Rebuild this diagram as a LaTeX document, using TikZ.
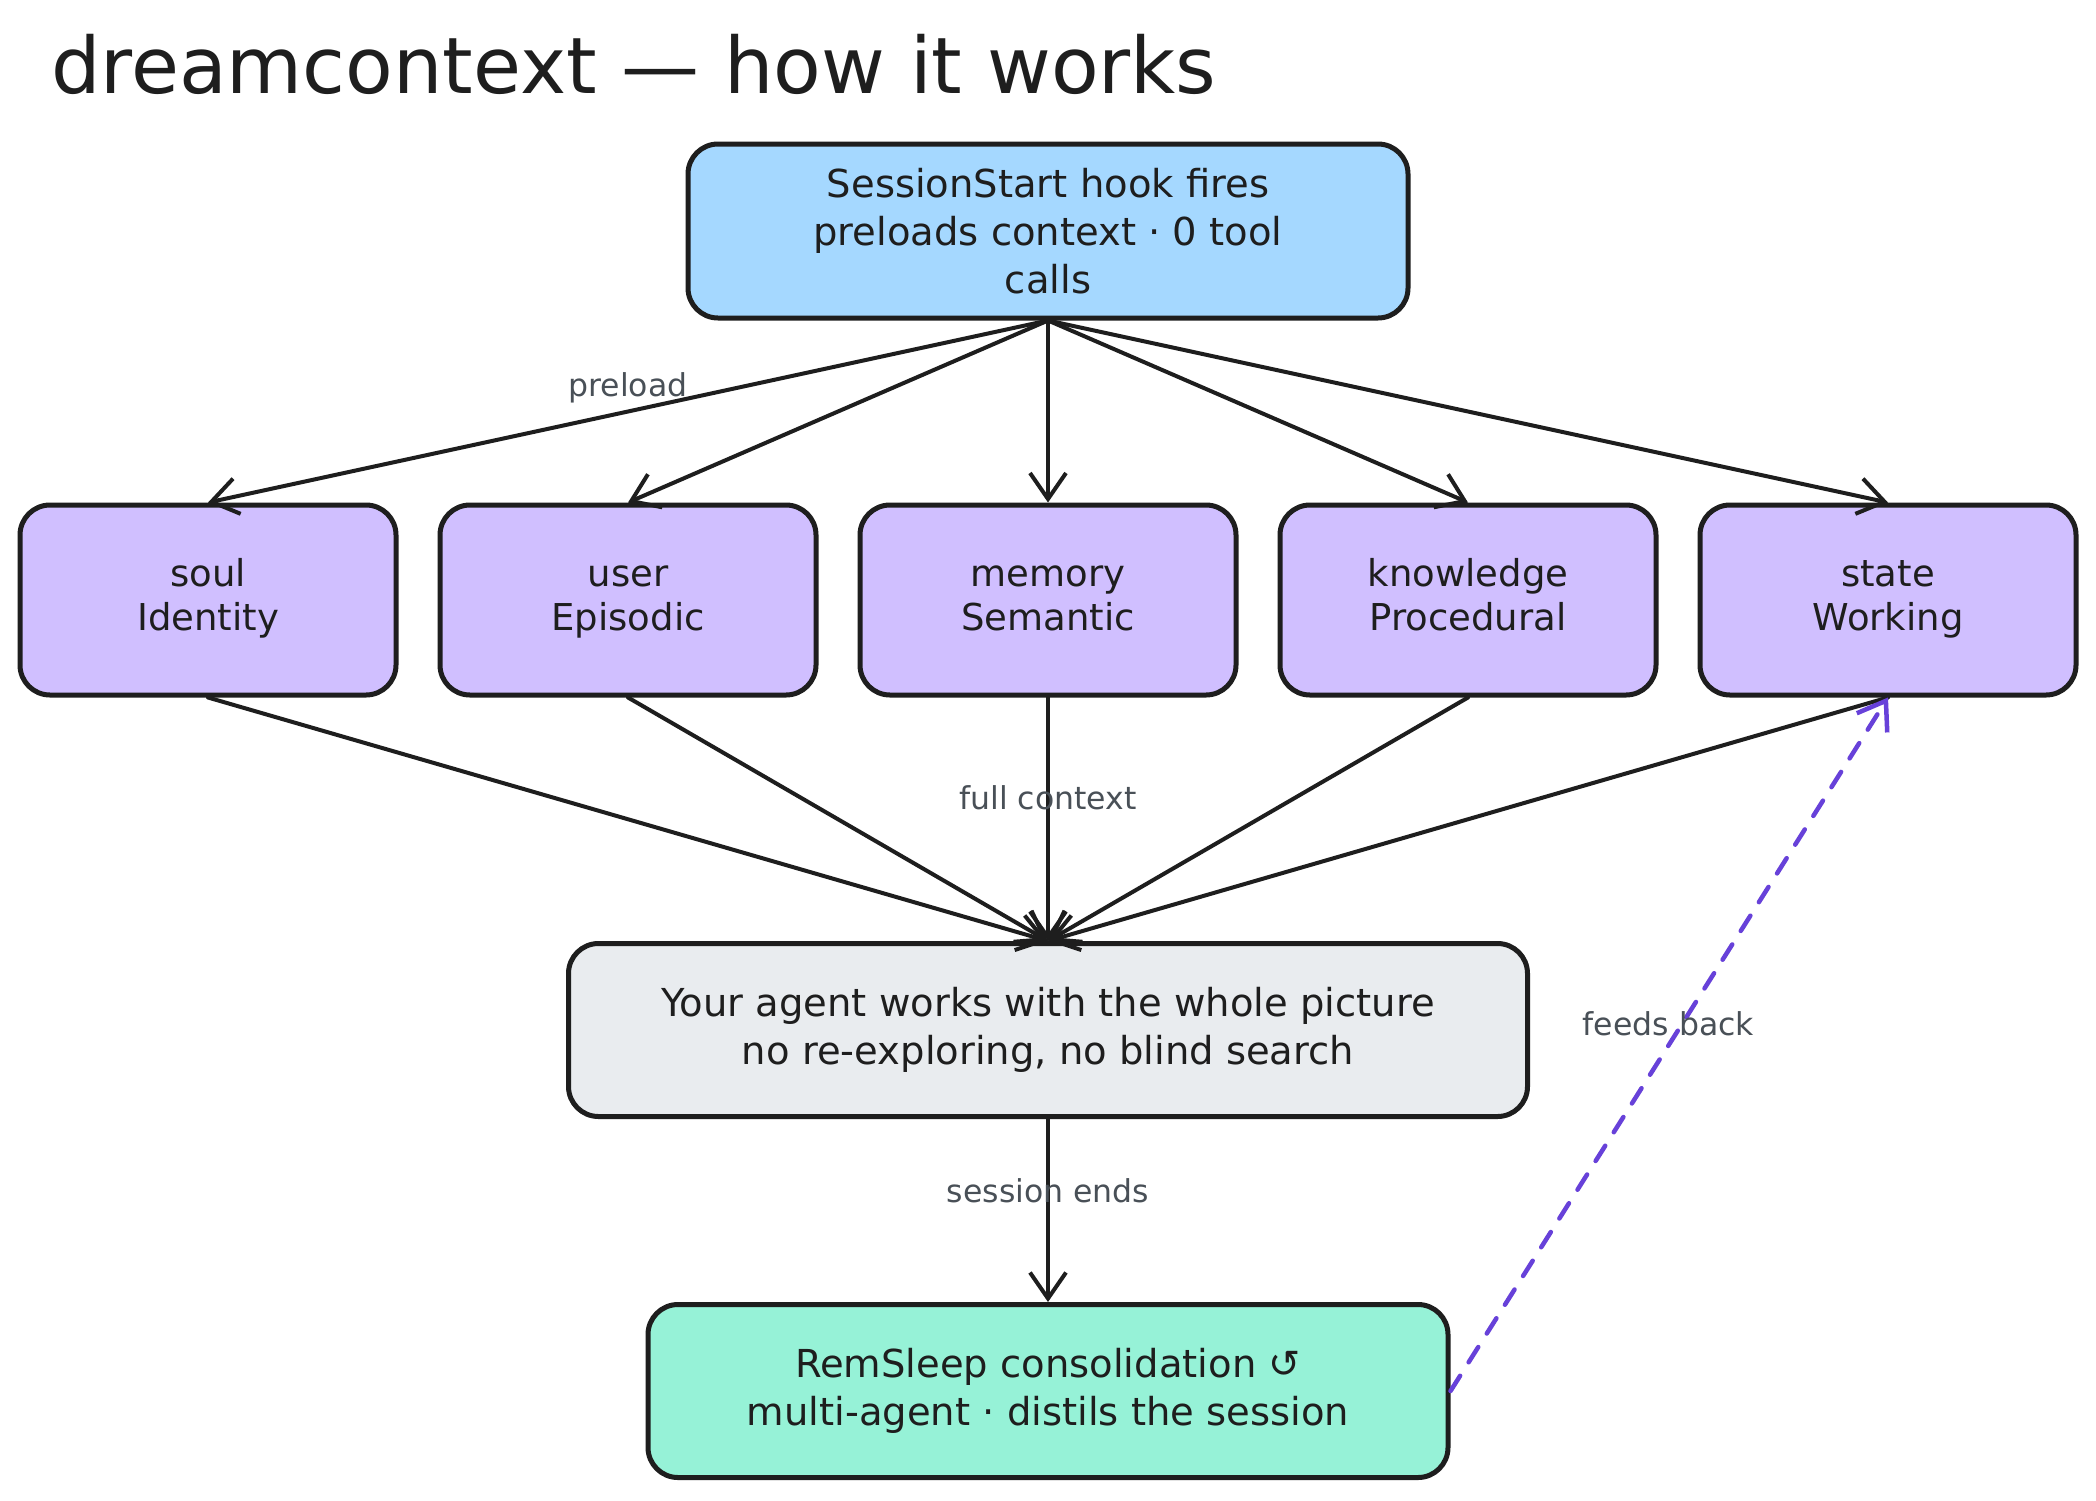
\documentclass[tikz,border=0pt]{standalone}
\usepackage{fontspec}
\setmainfont{DejaVu Sans}
\newfontfamily\symfont{DejaVu Sans}
\usetikzlibrary{arrows.meta}
\definecolor{ink}{HTML}{1E1E1E}
\definecolor{topfill}{HTML}{A5D8FF}
\definecolor{memfill}{HTML}{D0BFFF}
\definecolor{midfill}{HTML}{E9ECEF}
\definecolor{botfill}{HTML}{96F2D7}
\definecolor{violet}{HTML}{6741D9}
\definecolor{labelgray}{HTML}{495057}
\tikzset{
  box/.style={draw=ink, line width=5pt, rounded corners=30pt, align=center, inner sep=0pt,
    font=\fontsize{38.5}{48}\selectfont, text=ink},
  membox/.style={box, fill=memfill, minimum width=376pt, minimum height=190pt, font=\fontsize{37}{44}\selectfont},
  conn/.style={draw=ink, line width=4pt, line cap=round, -{Straight Barb[length=26pt,width=36pt,line width=4pt]}},
  fb/.style={draw=violet, line width=4.5pt, line cap=round, dash pattern=on 18pt off 16pt, -{Straight Barb[length=26pt,width=36pt,line width=4.5pt]}},
  elabel/.style={text=labelgray, font=\fontsize{31.5}{34}\selectfont, inner sep=2pt},
}
\begin{document}
\begin{tikzpicture}[x=1pt,y=-1pt]
\useasboundingbox[fill=white] (0,0) rectangle (2096,1500);
\node[anchor=west, text=ink, font=\fontsize{78}{84}\selectfont, inner sep=0pt] (title) at (51,64) {dreamcontext — how it works};
\node[box, fill=topfill, minimum width=720pt, minimum height=174pt] (hook) at (1048,231) {SessionStart hook fires\\preloads context · 0 tool\\calls};
\node[membox] (soul) at (208,600) {soul\strut\\Identity\strut};
\node[membox] (user) at (628,600) {user\strut\\Episodic\strut};
\node[membox] (memory) at (1048,600) {memory\strut\\Semantic\strut};
\node[membox] (knowledge) at (1468,600) {knowledge\strut\\Procedural\strut};
\node[membox] (state) at (1888,600) {state\strut\\Working\strut};
\node[box, fill=midfill, minimum width=959pt, minimum height=173pt] (agent) at (1048,1030) {Your agent works with the whole picture\\no re-exploring, no blind search};
\node[box, fill=botfill, minimum width=800pt, minimum height=173pt] (rem) at (1048,1391) {RemSleep consolidation {\symfont ↺}\\multi-agent · distils the session};

\draw[conn] (hook.south) -- node[elabel, midway, above=4pt] (lpre) {preload} (soul.north);
\draw[conn] (hook.south) -- (user.north);
\draw[conn] (hook.south) -- (memory.north);
\draw[conn] (hook.south) -- (knowledge.north);
\draw[conn] (hook.south) -- (state.north);

\draw[conn] (soul.south) -- (agent.north);
\draw[conn] (user.south) -- (agent.north);
\draw[conn] (memory.south) -- node[elabel, pos=0.41] (lfull) {full context} (agent.north);
\draw[conn] (knowledge.south) -- (agent.north);
\draw[conn] (state.south) -- (agent.north);

\draw[conn] (agent.south) -- node[elabel, pos=0.39] (lend) {session ends} (rem.north);
\draw[fb] (rem.east) -- node[elabel, pos=0.53, xshift=-14pt] (lfeed) {feeds back} (state.south);
\end{tikzpicture}
\end{document}
